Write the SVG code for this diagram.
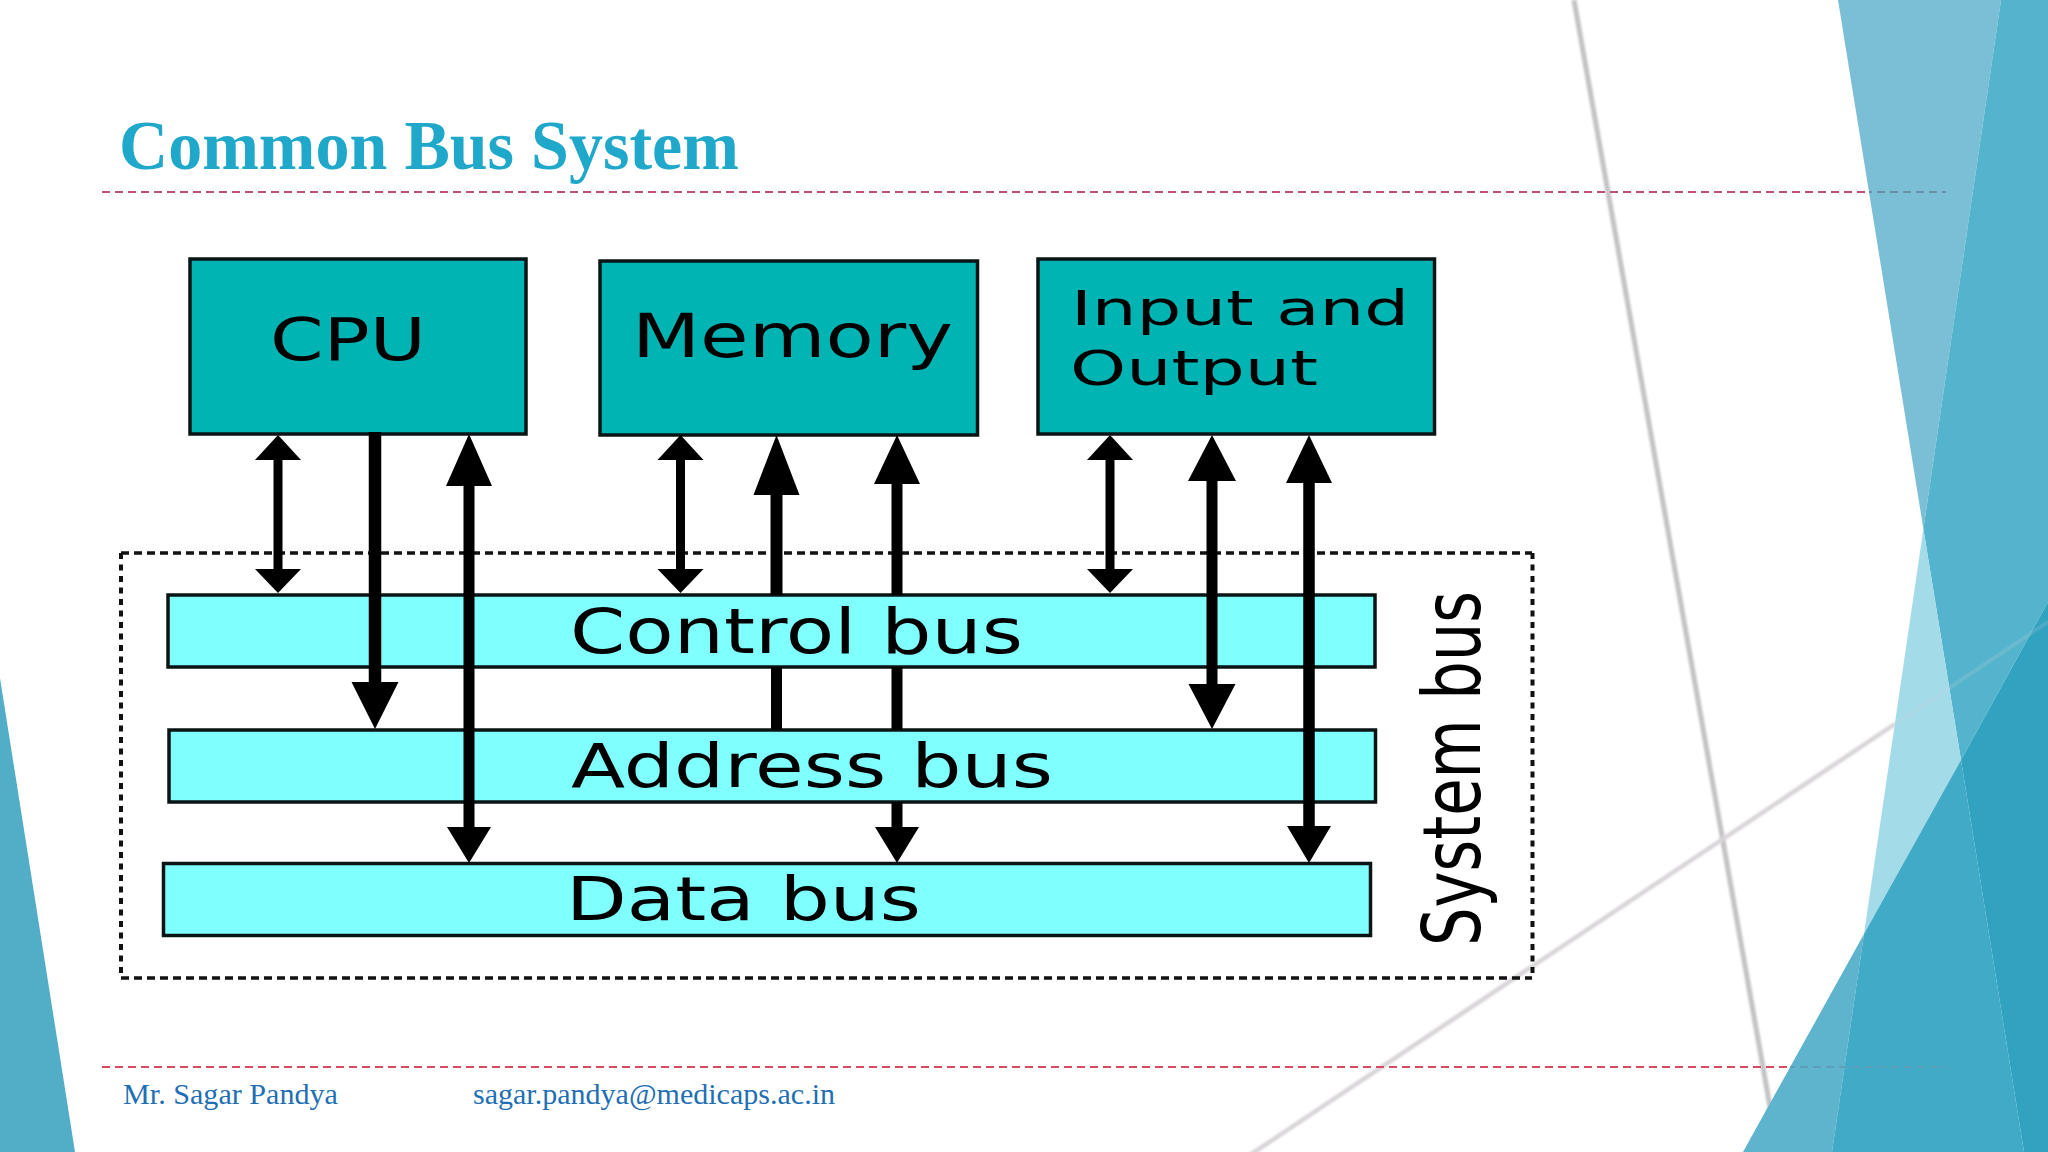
<svg xmlns="http://www.w3.org/2000/svg" width="2048" height="1152" viewBox="0 0 2048 1152">
<defs><filter id="soft" x="-5%" y="-5%" width="110%" height="110%"><feGaussianBlur stdDeviation="1"/></filter></defs>
<style>
.box{fill:#00b4b4;stroke:#0a1414;stroke-width:3.5}
.bus{fill:#80ffff;stroke:#0a1414;stroke-width:3.5}
.lbl{font-family:"DejaVu Sans",sans-serif;fill:#000}
.foot{font-family:"Liberation Serif",serif;font-size:30px;fill:#1f6fb5}
.arrow{fill:#000}
.gray{fill:none;stroke:#c4c2c4;stroke-width:5;filter:url(#soft)}
.gray2{fill:none;stroke:#d8d4d8;stroke-width:4.500;filter:url(#soft)}
.red{fill:none;stroke-width:1.8;stroke-dasharray:8 5}
.dh{fill:none;stroke:#111;stroke-width:3.5;stroke-dasharray:8 5}
.dv{fill:none;stroke:#111;stroke-width:4;stroke-dasharray:6 5.5}
</style>
<rect width="2048" height="1152" fill="#fff"/>
<g id="background">
<path d="M0 678L75 1152H0Z" fill="#52adc7"/>
<path class="gray" d="M1574 0L1778 1152"/>
<path class="gray2" d="M1247 1157L1895 724"/>
<path d="M1838 0H2001L1923.4 529Z" fill="#7bbfd6"/>
<path d="M2001 0H2048V602L1961 760L1923.4 529Z" fill="#55b4cd"/>
<path d="M1923.4 529L1961 760L1864 934Z" fill="#a3dbe9"/>
<path d="M1743 1152L1864 934L1832 1152Z" fill="#5eb3cd"/>
<path d="M1864 934L1961 760L2024 1152H1832Z" fill="#40aac7"/>
<path d="M1961 760L2048 602V1152H2024Z" fill="#31a3c1"/>
<path d="M1895 724L2048 622" fill="none" stroke="#d8d4d8" stroke-opacity=".16" stroke-width="4"/>
</g>
<g id="title">
<text x="119" y="169" font-family="Liberation Serif,serif" font-weight="700" font-size="69.4" fill="#20a8cb" textLength="620" lengthAdjust="spacingAndGlyphs">Common Bus System</text>
</g>
<g id="rules">
<path class="red" stroke="#c0506f" d="M102 192H1869"/>
<path class="red" stroke="#6b8fa4" stroke-dashoffset="5" d="M1869 192H1946"/>
<path class="red" stroke="#d84a60" d="M102 1067H1790"/>
<path class="red" stroke="#5d9fb8" stroke-dashoffset="3" d="M1790 1067H1946"/>
</g>
<g id="system-bus">
<path class="dh" d="M121 553H1532"/>
<path class="dh" d="M121 978H1532"/>
<path class="dv" d="M121 553V978"/>
<path class="dv" d="M1532.5 553V978"/>
<text class="lbl" transform="translate(1480 946) rotate(-90)" font-size="80" textLength="355" lengthAdjust="spacingAndGlyphs">System bus</text>
</g>
<g id="cpu">
<rect class="box" x="190" y="259" width="336" height="175"/>
<text class="lbl" x="270" y="360" font-size="59" textLength="156" lengthAdjust="spacingAndGlyphs">CPU</text>
</g>
<g id="memory">
<rect class="box" x="600" y="261" width="377.500" height="174"/>
<text class="lbl" x="632" y="357" font-size="60" textLength="321" lengthAdjust="spacingAndGlyphs">Memory</text>
</g>
<g id="io">
<rect class="box" x="1038" y="259" width="396.500" height="175"/>
<text class="lbl" x="1071" y="325" font-size="48" textLength="338" lengthAdjust="spacingAndGlyphs">Input and</text>
<text class="lbl" x="1070" y="385" font-size="48" textLength="248" lengthAdjust="spacingAndGlyphs">Output</text>
</g>
<g id="control-bus">
<rect class="bus" x="168" y="595" width="1207" height="72"/>
<text class="lbl" x="570" y="653" font-size="62" textLength="453" lengthAdjust="spacingAndGlyphs">Control bus</text>
</g>
<g id="address-bus">
<rect class="bus" x="169" y="730" width="1206.500" height="72"/>
<text class="lbl" x="571" y="787" font-size="61" textLength="482" lengthAdjust="spacingAndGlyphs">Address bus</text>
</g>
<g id="data-bus">
<rect class="bus" x="163.500" y="863.500" width="1207" height="72"/>
<text class="lbl" x="566" y="920" font-size="60" textLength="355" lengthAdjust="spacingAndGlyphs">Data bus</text>
</g>
<g id="connectors">
<path class="arrow" d="M278 435L301 460H282.500V569H301L278 593L255 569H273.500V460H255Z"/>
<path class="arrow" d="M368.750 432H381.250V682H398.500L375 729L351.500 682H368.750Z"/>
<path class="arrow" d="M469 434L492 486H474.500V827H491L469 863L447 827H463.500V486H446Z"/>
<path class="arrow" d="M680.500 435L703.500 460H685V569H703.500L680.500 593L657.500 569H676V460H657.500Z"/>
<path class="arrow" d="M776.500 435L799.500 495H782.500V595H770.500V495H753.500Z"/>
<path class="arrow" d="M771 667H782V730H771Z"/>
<path class="arrow" d="M897 435L920 484H902.500V595H891.500V484H874Z"/>
<path class="arrow" d="M891.500 667H902.500V730H891.500Z"/>
<path class="arrow" d="M891.500 802H902.500V827H919L897 863L875 827H891.500Z"/>
<path class="arrow" d="M1110 435L1133 460H1114.500V569H1133L1110 593L1087 569H1105.500V460H1087Z"/>
<path class="arrow" d="M1212 435L1236 481H1217.500V684H1235.500L1212 729L1188.500 684H1206.500V481H1188Z"/>
<path class="arrow" d="M1309 435L1332 483H1314.750V826H1331L1309 863L1287 826H1303.250V483H1286Z"/>
</g>
<g id="footer">
<text class="foot" x="123" y="1104" textLength="215" lengthAdjust="spacingAndGlyphs">Mr. Sagar Pandya</text>
<text class="foot" x="473" y="1104" textLength="362" lengthAdjust="spacingAndGlyphs">sagar.pandya@medicaps.ac.in</text>
</g>
</svg>
